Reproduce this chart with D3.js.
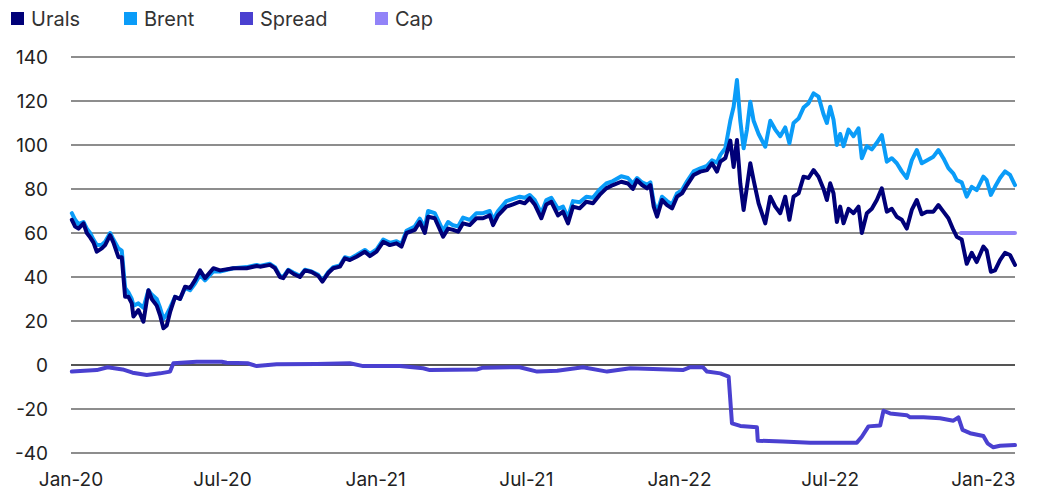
<!DOCTYPE html>
<html>
<head>
<meta charset="utf-8">
<script src="https://cdn.jsdelivr.net/npm/d3@7"></script>
<style>
  body { margin: 0; background: #fff; }
  svg { display: block; font-family: Inter, "Open Sans", sans-serif; }
</style>
</head>
<body>
<svg id="chart" width="1037" height="491"></svg>
<script>
// Urals vs Brent, with spread and price cap (USD/bbl)

const dates = [
  "2020-01-02","2020-01-06","2020-01-10","2020-01-16","2020-01-20","2020-01-24","2020-01-28","2020-02-01",
  "2020-02-07","2020-02-11","2020-02-17","2020-02-21","2020-02-27","2020-03-02","2020-03-06","2020-03-10",
  "2020-03-14","2020-03-16","2020-03-22","2020-03-28","2020-04-03","2020-04-07","2020-04-13","2020-04-17",
  "2020-04-21","2020-04-25","2020-04-29","2020-05-05","2020-05-11","2020-05-17","2020-05-23","2020-05-29",
  "2020-06-04","2020-06-10","2020-06-20","2020-06-28","2020-07-14","2020-07-30","2020-08-11","2020-08-15",
  "2020-08-27","2020-09-02","2020-09-08","2020-09-12","2020-09-18","2020-09-24","2020-10-02","2020-10-08",
  "2020-10-16","2020-10-24","2020-10-29","2020-11-05","2020-11-11","2020-11-19","2020-11-25","2020-12-01",
  "2020-12-09","2020-12-19","2020-12-25","2021-01-02","2021-01-10","2021-01-18","2021-01-26","2021-02-01",
  "2021-02-07","2021-02-17","2021-02-23","2021-03-01","2021-03-05","2021-03-13","2021-03-23","2021-03-29",
  "2021-04-04","2021-04-10","2021-04-16","2021-04-24","2021-05-02","2021-05-10","2021-05-18","2021-05-22",
  "2021-05-28","2021-06-07","2021-06-15","2021-06-23","2021-06-29","2021-07-05","2021-07-11","2021-07-19",
  "2021-07-25","2021-07-31","2021-08-08","2021-08-14","2021-08-20","2021-08-26","2021-09-03","2021-09-11",
  "2021-09-19","2021-09-27","2021-10-05","2021-10-13","2021-10-23","2021-10-31","2021-11-06","2021-11-11",
  "2021-11-17","2021-11-23","2021-11-27","2021-12-01","2021-12-05","2021-12-11","2021-12-17","2021-12-23",
  "2021-12-29","2022-01-04","2022-01-10","2022-01-18","2022-01-26","2022-02-03","2022-02-09","2022-02-15",
  "2022-02-19","2022-02-25","2022-03-03","2022-03-07","2022-03-11","2022-03-15","2022-03-19","2022-03-23",
  "2022-03-27","2022-03-31","2022-04-06","2022-04-14","2022-04-20","2022-04-26","2022-05-02","2022-05-08",
  "2022-05-13","2022-05-18","2022-05-24","2022-05-30","2022-06-05","2022-06-11","2022-06-17","2022-06-23",
  "2022-06-27","2022-07-01","2022-07-05","2022-07-09","2022-07-13","2022-07-17","2022-07-23","2022-07-29",
  "2022-08-04","2022-08-08","2022-08-14","2022-08-20","2022-08-26","2022-09-01","2022-09-07","2022-09-13",
  "2022-09-19","2022-09-25","2022-10-01","2022-10-07","2022-10-13","2022-10-19","2022-10-25","2022-11-02",
  "2022-11-08","2022-11-14","2022-11-20","2022-11-26","2022-11-30","2022-12-06","2022-12-12","2022-12-18",
  "2022-12-24","2023-01-01","2023-01-05","2023-01-10","2023-01-15","2023-01-21","2023-01-27","2023-02-02",
  "2023-02-08"
];

const urals = [
  66, 62.9, 62, 64.4, 60, 58, 55.6, 51.5,
  53, 54.5, 59, 55.6, 49, 49, 31, 31,
  28, 22, 25, 19.7, 34, 30, 27, 22.6,
  16.7, 18, 24, 31, 30, 35.6, 35, 38.6,
  43, 39.5, 44, 43, 44, 44, 45, 44.7,
  45.5, 44, 40, 39.5, 43, 41.5, 40, 43,
  42.3, 40.5, 37.9, 41.8, 44, 44.7, 48.5, 47.7,
  49.2, 51.5, 49.5, 51.5, 56, 54.5, 55.3, 53.8,
  60, 61.4, 65, 60, 67.4, 66.7, 58.3, 62,
  61.4, 60.6, 64.4, 63.6, 66.7, 66.7, 68, 63.6,
  68, 72, 73, 74.2, 73.5, 75.8, 73, 66.7,
  73, 74.2, 68, 69.7, 64.4, 72, 71.2, 74.2,
  73.5, 77.3, 80.3, 81.8, 83.3, 82.5, 80, 84,
  81.8, 80.3, 81.8, 72, 67.4, 75, 72.7, 71.2,
  76.5, 78, 81.8, 86.4, 87.9, 88.6, 91.7, 87.9,
  92.4, 94, 102, 90, 102.3, 82.6, 70.5, 81,
  91.7, 84, 73.5, 64.4, 76.5, 72, 69, 76.5,
  66, 76.5, 78, 85.6, 85, 88.6, 85.6, 80,
  75, 82.6, 78, 65, 72, 64.4, 71, 69,
  72, 60, 69, 71, 75, 80.3, 69.7, 71,
  67.4, 66, 62, 70.5, 75, 68.5, 69.7, 69.7,
  72.7, 69.7, 66.7, 61.4, 58.3, 57, 46, 51,
  46.8, 53.8, 52, 42.4, 43, 47.7, 51, 50,
  45.5
];

const brent = [
  69, 66, 64, 65, 62, 60, 57, 54.5,
  54.7, 56, 60, 57, 53, 52, 35, 33,
  30, 27, 28, 26, 34, 32, 30, 26,
  21, 23, 26, 31, 30, 35, 34, 37,
  41, 38.5, 42.5, 42.5, 44, 44.5, 45.5, 45,
  46, 44.5, 40.5, 40, 43.3, 42, 40.5, 43.3,
  42.5, 41, 38.3, 42.2, 44.5, 45.2, 49, 48.3,
  50, 52.3, 50.5, 52.5, 57, 55.5, 56.3, 55,
  61, 63, 66.5, 62.5, 70, 69, 61, 65,
  63.5, 63, 67, 66, 69, 69, 70, 66,
  70, 74.5, 75.5, 76.5, 76, 77.3, 75, 69,
  75, 76, 71, 72, 67, 74.5, 74, 76.5,
  76, 79.8, 82.5, 83.6, 85.8, 85, 82.5, 85,
  83, 82, 83, 74, 69.5, 76.5, 74.5, 73,
  78, 79.5, 83.5, 88, 89.4, 90.5, 93, 92,
  95.5, 98.5, 111, 117.4, 129.5, 111, 98.5, 107,
  119.7, 111, 105, 99.2, 111, 107, 104, 108,
  100.8, 110, 112, 117, 119, 123.5, 122, 114,
  110, 117.4, 111.5, 100, 105, 99.5, 107, 104,
  107.6, 94, 99.5, 98, 101, 104.5, 92.4, 94,
  91.7, 88, 85, 93, 97.7, 91.7, 93, 94.7,
  97.7, 94, 89.5, 87, 84, 83, 76.5, 81,
  79.5, 85.6, 84, 77.3, 81, 85, 88, 86.4,
  81.8
];

const spreadDates = [
  "2020-01-02","2020-02-01","2020-02-14","2020-03-03","2020-03-15","2020-04-01","2020-04-17","2020-04-29",
  "2020-05-03","2020-05-31","2020-06-30","2020-07-06","2020-07-31","2020-08-11","2020-09-04","2020-10-22",
  "2020-12-01","2020-12-17","2021-01-30","2021-02-27","2021-03-07","2021-05-03","2021-05-10","2021-06-23",
  "2021-07-14","2021-08-07","2021-09-07","2021-10-06","2021-11-03","2022-01-05","2022-01-14","2022-01-29",
  "2022-02-03","2022-02-19","2022-03-01","2022-03-05","2022-03-15","2022-04-04","2022-04-05","2022-05-05",
  "2022-06-07","2022-08-02","2022-08-08","2022-08-16","2022-08-30","2022-09-03","2022-09-11","2022-10-01",
  "2022-10-05","2022-10-21","2022-11-10","2022-11-26","2022-12-02","2022-12-07","2022-12-16","2023-01-01",
  "2023-01-06","2023-01-13","2023-01-21","2023-02-08"
];

const spread = [
  -3, -2.3, -1, -2, -3.5, -4.5, -3.8, -3,
  0.8, 1.5, 1.5, 1, 0.8, -0.5, 0.3, 0.5,
  0.8, -0.5, -0.5, -1.5, -2.3, -2, -1.2, -1,
  -3, -2.6, -1, -3, -1.5, -2.3, -1, -1,
  -3, -3.8, -5.3, -26.5, -27.7, -28.3, -34.4, -34.8,
  -35.3, -35.3, -32.6, -27.9, -27.5, -20.8, -22, -22.8,
  -23.8, -23.8, -24.2, -25.3, -23.8, -29.5, -31, -32.3,
  -35.6, -37.4, -36.7, -36.4
];

const capDates = ["2022-12-05", "2023-02-08"];
const cap = [60, 60];

const yTicks = [-40, -20, 0, 20, 40, 60, 80, 100, 120, 140];
const xTicks = ["2020-01-01","2020-07-01","2021-01-01","2021-07-01","2022-01-01","2022-07-01","2023-01-01"];

const seriesNames = ["Urals", "Brent", "Spread", "Cap"];
const colors = ["#000078", "#0a9cf8", "#4a40d0", "#9283f8"];

const parse = d3.timeParse("%Y-%m-%d");
const fmt = d3.timeFormat("%b-%y");

const svg = d3.select("#chart");
const margin = { left: 71, right: 22, top: 57, bottom: 38 };
const W = 1037, H = 491;

const x = d3.scaleTime()
  .domain([parse("2020-01-01"), parse("2023-02-08")])
  .range([margin.left, W - margin.right]);

const y = d3.scaleLinear()
  .domain([-40, 140])
  .range([H - margin.bottom, margin.top]);

// gridlines
svg.append("g")
  .selectAll("line")
  .data(yTicks)
  .join("line")
  .attr("x1", margin.left)
  .attr("x2", W - margin.right)
  .attr("y1", d => y(d))
  .attr("y2", d => y(d))
  .attr("stroke", "#1c1c1c")
  .attr("stroke-width", d => d === 0 ? 1.6 : 1.1);

// y labels
svg.append("g")
  .selectAll("text")
  .data(yTicks)
  .join("text")
  .attr("x", 48)
  .attr("y", d => y(d))
  .attr("dy", "0.35em")
  .attr("text-anchor", "end")
  .style("font-size", "19px")
  .style("fill", "#222")
  .text(d => d);

// x labels
svg.append("g")
  .selectAll("text")
  .data(xTicks.map(parse))
  .join("text")
  .attr("x", d => x(d))
  .attr("y", 486)
  .attr("text-anchor", "middle")
  .style("font-size", "19px")
  .style("fill", "#222")
  .text(d => fmt(d));

function drawLine(ds, vs, color) {
  const pts = ds.map((d, i) => [parse(d), vs[i]]);
  svg.append("path")
    .datum(pts)
    .attr("fill", "none")
    .attr("stroke", color)
    .attr("stroke-width", 4)
    .attr("stroke-linejoin", "round")
    .attr("stroke-linecap", "round")
    .attr("d", d3.line().x(p => x(p[0])).y(p => y(p[1])));
}

drawLine(dates, brent, colors[1]);
drawLine(dates, urals, colors[0]);
drawLine(spreadDates, spread, colors[2]);
drawLine(capDates, cap, colors[3]);

// legend
const legendX = [11, 124, 240, 375];
const legend = svg.append("g")
  .selectAll("g")
  .data(seriesNames)
  .join("g")
  .attr("transform", (d, i) => `translate(${legendX[i]},12)`);

legend.append("rect")
  .attr("width", 13)
  .attr("height", 13)
  .attr("fill", (d, i) => colors[i]);

legend.append("text")
  .attr("x", 20)
  .attr("y", 13.5)
  .style("font-size", "20px")
  .style("fill", "#333")
  .text(d => d);
</script>
</body>
</html>
